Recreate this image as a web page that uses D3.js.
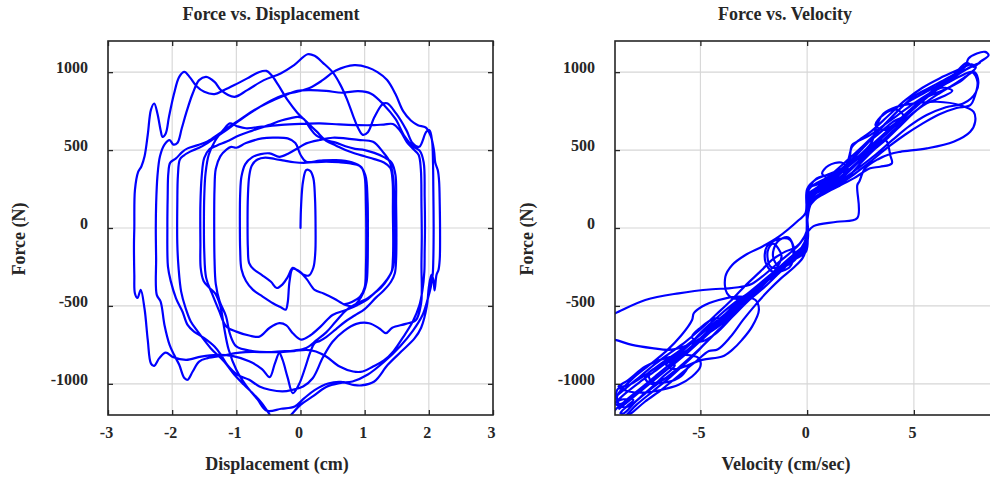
<!DOCTYPE html>
<html>
<head>
<meta charset="utf-8">
<script src="https://cdn.jsdelivr.net/npm/d3@7"></script>
<style>
  html, body { margin: 0; padding: 0; background: #fff; }
  svg { display: block; }
  text { font-family: "Liberation Serif", "Times New Roman", serif; font-weight: bold; fill: #262626; }
</style>
</head>
<body>
<svg id="fig" width="990" height="480"></svg>
<script>
// ---- tick values ----
const dispTicks  = [-3, -2, -1, 0, 1, 2, 3];
const velTicks   = [-5, 0, 5];
const forceTicks = [-1000, -500, 0, 500, 1000];

// ---- force vs displacement trace, [displacement cm, force N], one array per cycle ----
const fdCycle1 = [[0,0],[0.01,150],[0.04,300],[0.09,372],[0.15,366],[0.2,320],[0.225,200],[0.235,0],[0.23,-160],[0.2,-255],[0.13,-305],[0.05,-300],[-0.04,-275],[-0.12,-256],[-0.2,-315],[-0.28,-362],[-0.37,-385],[-0.46,-345],[-0.6,-302],[-0.73,-265],[-0.8,-225],[-0.82,-130],[-0.825,50]];
const fdCycle2 = [[-0.82,200],[-0.8,330],[-0.76,400],[-0.67,440],[-0.55,452],[-0.4,443],[-0.25,432],[-0.1,422],[0.05,418],[0.2,422],[0.4,426],[0.6,422],[0.78,414],[0.92,398],[1.01,340],[1.045,180],[1.05,0],[1.045,-250],[1.03,-345],[0.98,-415],[0.9,-470],[0.82,-502],[0.7,-494],[0.52,-452],[0.36,-420],[0.22,-397],[0.1,-330],[0.0,-284],[-0.12,-262],[-0.17,-340],[-0.2,-480],[-0.23,-524],[-0.3,-510],[-0.43,-483],[-0.59,-440],[-0.74,-397],[-0.85,-340],[-0.92,-265],[-0.94,-140],[-0.945,50]];
const fdCycle3 = [[-0.94,220],[-0.92,330],[-0.86,410],[-0.75,455],[-0.62,474],[-0.48,479],[-0.33,457],[-0.18,480],[-0.03,515],[0.09,543],[0.3,565],[0.5,579],[0.7,575],[0.9,565],[1.13,553],[1.28,490],[1.39,425],[1.445,320],[1.46,150],[1.465,-50],[1.46,-200],[1.43,-270],[1.37,-320],[1.25,-385],[1.15,-419],[1.02,-465],[0.89,-494],[0.72,-525],[0.5,-558],[0.32,-630],[0.15,-690],[0.01,-716],[-0.12,-675],[-0.22,-625],[-0.33,-611],[-0.48,-640],[-0.64,-697],[-0.8,-690],[-1.0,-665],[-1.16,-630],[-1.27,-530],[-1.38,-420],[-1.47,-320],[-1.5,-150],[-1.505,50]];
const fdCycle4 = [[-1.5,200],[-1.48,350],[-1.43,470],[-1.33,560],[-1.2,630],[-1.1,671],[-1.0,655],[-0.85,640],[-0.6,650],[-0.3,662],[0.0,668],[0.3,671],[0.6,665],[0.9,660],[1.15,660],[1.3,664],[1.44,667],[1.55,625],[1.66,550],[1.76,505],[1.84,470],[1.875,380],[1.885,150],[1.89,-50],[1.885,-250],[1.89,-400],[1.88,-483],[1.8,-590],[1.64,-615],[1.43,-640],[1.33,-675],[1.23,-645],[1.07,-611],[0.87,-615],[0.68,-660],[0.5,-730],[0.35,-830],[0.19,-964],[0.04,-1017],[-0.12,-1038],[-0.28,-1049],[-0.48,-1038],[-0.64,-1017],[-0.8,-974],[-0.98,-942],[-1.14,-878],[-1.24,-814],[-1.34,-761],[-1.5,-707],[-1.66,-665],[-1.76,-622],[-1.84,-536],[-1.94,-451],[-2.02,-344],[-2.065,-250],[-2.075,0]];
const fdCycle5 = [[-2.07,200],[-2.06,350],[-2.03,420],[-1.94,447],[-1.84,489],[-1.76,511],[-1.6,532],[-1.45,555],[-1.25,610],[-1.0,680],[-0.75,750],[-0.5,805],[-0.25,850],[-0.05,880],[0.15,885],[0.4,880],[0.65,868],[0.9,878],[1.1,862],[1.3,790],[1.48,700],[1.62,590],[1.75,525],[1.86,495],[1.92,420],[1.935,200],[1.94,0],[1.935,-150],[1.93,-280],[1.9,-400],[1.85,-500],[1.75,-600],[1.6,-700],[1.45,-790],[1.3,-850],[1.13,-889],[0.97,-921],[0.82,-921],[0.61,-889],[0.4,-825],[0.24,-793],[0.09,-782],[-0.1,-790],[-0.3,-796],[-0.53,-797],[-0.75,-795],[-0.95,-800],[-1.2,-818],[-1.45,-835],[-1.58,-857],[-1.68,-921],[-1.76,-974],[-1.81,-963],[-1.89,-878],[-1.97,-814],[-2.04,-750],[-2.12,-622],[-2.18,-472],[-2.24,-429],[-2.25,-194],[-2.255,0]];
const fdCycle6 = [[-2.25,150],[-2.23,330],[-2.19,460],[-2.12,535],[-2.04,564],[-1.98,535],[-1.92,545],[-1.85,640],[-1.78,740],[-1.68,863],[-1.58,949],[-1.47,970],[-1.34,938],[-1.24,885],[-1.03,842],[-0.83,885],[-0.57,949],[-0.31,992],[-0.1,1045],[0.11,1115],[0.22,1105],[0.35,1060],[0.5,1000],[0.62,920],[0.72,830],[0.82,720],[0.9,640],[0.97,598],[1.05,615],[1.15,710],[1.28,795],[1.35,800],[1.49,735],[1.65,628],[1.75,543],[1.85,521],[1.96,617],[2.01,628],[2.05,560],[2.065,420],[2.07,250],[2.075,0],[2.07,-200],[2.06,-300],[2.03,-380],[1.98,-460],[1.9,-560],[1.75,-660],[1.55,-760],[1.3,-860],[1.05,-940],[0.81,-985],[0.61,-995],[0.4,-1020],[0.19,-1081],[0.0,-1135],[-0.17,-1209],[-0.3,-1260],[-0.42,-1230],[-0.5,-1185],[-0.6,-1125],[-0.72,-1071],[-0.88,-1006],[-1.03,-942],[-1.19,-857],[-1.4,-771],[-1.6,-665],[-1.71,-600],[-1.79,-515],[-1.86,-408],[-1.9,-258],[-1.92,-100]];
const fdCycle7 = [[-1.92,150],[-1.91,340],[-1.88,440],[-1.82,465],[-1.72,490],[-1.58,515],[-1.45,545],[-1.2,615],[-0.95,690],[-0.7,760],[-0.45,820],[-0.22,860],[-0.05,875],[0.15,900],[0.35,950],[0.55,1010],[0.84,1045],[1.05,1030],[1.2,1000],[1.35,950],[1.48,860],[1.6,750],[1.72,690],[1.83,660],[1.95,645],[2.03,590],[2.08,500],[2.1,420],[2.14,370],[2.16,300],[2.17,150],[2.175,-50],[2.17,-200],[2.15,-270],[2.12,-300],[2.09,-400],[2.07,-330],[2.04,-300],[2.0,-380],[1.97,-500],[1.88,-640],[1.78,-707],[1.57,-793],[1.36,-878],[1.15,-985],[0.95,-1010],[0.84,-1008],[0.63,-988],[0.43,-998],[0.22,-1040],[0.06,-1092],[-0.09,-1145],[-0.3,-1160],[-0.53,-1172],[-0.67,-1100],[-0.85,-1010],[-1.0,-910],[-1.12,-780],[-1.19,-640],[-1.25,-500],[-1.33,-420],[-1.43,-380],[-1.51,-340],[-1.555,-258],[-1.56,-100]];
const fdCycle8 = [[-1.56,150],[-1.54,330],[-1.5,450],[-1.42,505],[-1.3,530],[-1.15,555],[-0.95,595],[-0.75,625],[-0.5,660],[-0.3,690],[-0.15,705],[-0.04,713],[0.05,700],[0.15,640],[0.25,592],[0.4,563],[0.55,548],[0.7,525],[0.85,508],[1.0,500],[1.15,482],[1.3,455],[1.42,420],[1.48,340],[1.49,150],[1.495,-50],[1.49,-200],[1.47,-290],[1.41,-345],[1.3,-400],[1.18,-445],[1.0,-520],[0.85,-560],[0.7,-600],[0.55,-650],[0.4,-700],[0.3,-725],[0.22,-739],[0.15,-800],[0.07,-900],[-0.02,-1000],[-0.12,-1060],[-0.2,-960],[-0.28,-845],[-0.33,-803],[-0.4,-870],[-0.48,-957],[-0.6,-905],[-0.8,-855],[-1.05,-822],[-1.3,-814],[-1.55,-825],[-1.78,-846],[-1.98,-830],[-2.1,-800],[-2.2,-835],[-2.28,-885],[-2.33,-870],[-2.38,-720],[-2.43,-520],[-2.49,-397],[-2.54,-449],[-2.58,-420],[-2.59,-300],[-2.595,-100]];
const fdCycle9 = [[-2.59,0],[-2.58,244],[-2.53,360],[-2.48,395],[-2.43,460],[-2.38,600],[-2.33,760],[-2.28,799],[-2.23,735],[-2.18,628],[-2.15,585],[-2.1,607],[-2.05,713],[-1.97,863],[-1.89,970],[-1.81,1002],[-1.72,965],[-1.62,910],[-1.5,874],[-1.34,859],[-1.19,885],[-1.03,917],[-0.83,960],[-0.65,1000],[-0.53,1008],[-0.45,980],[-0.35,920],[-0.2,820],[-0.05,740],[0.1,680],[0.25,620],[0.4,560],[0.55,530],[0.7,500],[0.85,478],[1.0,460],[1.15,442],[1.3,420],[1.4,385],[1.435,300],[1.44,100],[1.445,-100],[1.44,-200],[1.42,-280],[1.35,-330],[1.2,-400],[1.05,-450],[0.9,-480],[0.72,-525],[0.55,-600],[0.4,-670],[0.25,-720],[0.09,-770],[-0.1,-786],[-0.3,-792],[-0.53,-797],[-0.75,-790],[-1.0,-760],[-1.1,-680],[-1.16,-568],[-1.26,-470],[-1.32,-360],[-1.34,-200],[-1.345,0]];
const fdCycle10 = [[-1.34,250],[-1.32,380],[-1.25,460],[-1.15,505],[-1.08,521],[-1.0,515],[-0.85,545],[-0.6,575],[-0.43,580],[-0.2,575],[-0.08,545],[0.0,470],[0.09,425],[0.3,432],[0.55,436],[0.8,422],[0.95,390],[1.0,330],[1.02,150],[1.025,-50],[1.02,-250],[1.0,-380],[0.93,-440],[0.8,-475],[0.68,-490]];

// ---- force vs velocity trace, [velocity cm/sec, force N], one array per cycle ----
const fvCycle1 = [[0,0],[0.03,150],[0.08,255],[0.6,285],[1.3,335],[2.0,405],[2.7,490],[3.4,575],[4.1,665],[4.9,765],[5.6,840],[6.39,885],[7.17,940],[7.8,1002],[8.0,960],[7.9,870],[7.33,800],[6.5,775],[5.6,725],[4.8,655],[4.0,565],[3.2,470],[2.4,385],[1.6,305],[0.9,245],[0.3,190],[0.05,130],[0.0,0],[-0.05,-120],[-0.5,-170],[-1.2,-245],[-2.0,-335],[-2.8,-425],[-3.6,-525],[-4.4,-615],[-5.2,-705],[-6.0,-790],[-6.8,-865],[-7.6,-945],[-8.4,-1010],[-8.84,-1017]];
const fvCycle2 = [[-8.37,-974],[-7.58,-889],[-6.64,-835],[-5.7,-814],[-5.08,-835],[-5.0,-889],[-5.39,-953],[-6.02,-1006],[-6.8,-1038],[-7.58,-1056],[-8.37,-1049],[-8.84,-1030],[-9.0,-1090],[-9.1,-1160],[-9.2,-1230],[-8.7,-1225],[-8.0,-1135],[-7.2,-1045],[-6.4,-955],[-5.6,-855],[-4.8,-745],[-4.0,-635],[-3.2,-525],[-2.4,-415],[-1.6,-305],[-0.9,-215],[-0.3,-135],[0.0,-40],[0.05,215],[0.6,265],[1.4,335],[2.2,435],[3.0,545],[3.27,660],[3.58,735],[4.2,778],[4.98,799],[6.08,810],[7.17,788],[7.8,745],[7.87,681],[7.64,617],[6.86,553],[5.61,511],[4.36,489],[3.89,475],[3.3,440],[2.7,380],[2.45,300],[2.35,275],[2.35,64],[1.4,40],[0.3,12],[0.0,-30]];
const fvCycle3 = [[-0.4,-110],[-1.2,-205],[-2.0,-300],[-2.6,-360],[-2.89,-372],[-3.67,-387],[-4.45,-393],[-6.02,-419],[-7.58,-462],[-8.99,-547],[-9.7,-590],[-9.9,-660],[-9.5,-705],[-8.99,-718],[-8.2,-750],[-7.26,-771],[-6.48,-782],[-6.0,-771],[-5.4,-740],[-4.8,-690],[-4.0,-615],[-3.2,-510],[-2.4,-395],[-1.6,-290],[-0.8,-190],[-0.1,-110],[0.0,60],[0.1,250],[1.0,330],[1.8,425],[2.6,525],[3.4,630],[4.2,745],[5.0,845],[5.8,905],[6.6,965],[7.4,1035],[7.56,1088],[7.95,1120],[8.34,1130],[8.5,1109],[8.1,1066],[7.8,1034],[7.48,1060]];
const fvCycle4 = [[6.8,975],[6.0,895],[5.2,805],[4.4,705],[3.6,605],[2.8,505],[2.0,405],[1.2,305],[0.5,245],[0.1,205],[0.0,100],[-0.1,-150],[-0.9,-225],[-1.7,-310],[-2.5,-395],[-3.3,-470],[-4.1,-560],[-4.9,-660],[-5.6,-760],[-6.2,-830],[-6.6,-880],[-6.2,-905],[-4.92,-846],[-3.98,-825],[-3.51,-782],[-3.05,-718],[-2.58,-633],[-2.26,-526],[-2.42,-462],[-3.2,-440],[-4.14,-462],[-4.92,-504],[-5.31,-547],[-5.39,-590],[-5.9,-690],[-6.6,-790],[-7.4,-880],[-8.2,-970],[-8.9,-1080],[-8.8,-1130],[-8.1,-1070],[-7.3,-990],[-6.5,-900],[-5.7,-800],[-4.9,-700],[-4.1,-590],[-3.3,-480],[-2.6,-400],[-1.9,-320],[-1.2,-240],[-0.5,-160],[0.0,-90],[0.03,180],[0.6,275],[1.4,355],[2.2,455],[3.0,575],[3.8,690],[4.6,795],[5.4,860],[6.2,920],[7.0,985],[7.7,1035],[8.1,1060]];
const fvCycle5 = [[7.6,1030],[6.8,960],[6.0,880],[5.2,790],[4.4,690],[3.6,590],[2.8,480],[2.0,380],[1.2,290],[0.5,230],[0.1,180],[0.0,50],[-0.1,-130],[-0.9,-210],[-1.7,-300],[-2.5,-395],[-3.3,-455],[-3.75,-420],[-3.83,-312],[-3.51,-237],[-2.89,-173],[-2.11,-120],[-1.33,-56],[-0.39,51],[-0.08,94],[0.05,215],[0.9,290],[1.8,380],[2.6,470],[3.2,540],[3.7,560],[3.89,468],[3.97,415],[3.42,393],[2.95,383],[2.2,320],[1.5,270],[0.8,220],[0.2,160],[0.0,40],[-0.1,-100],[-0.6,-165],[-1.1,-230],[-1.6,-280],[-1.95,-220],[-1.89,-120],[-1.3,-70],[-0.8,-77],[-0.64,-162],[-0.8,-248],[-1.4,-290]];
const fvCycle6 = [[-2.2,-360],[-3.0,-450],[-3.8,-550],[-4.6,-640],[-5.4,-730],[-6.2,-820],[-7.0,-905],[-7.8,-985],[-8.5,-1060],[-9.0,-1124],[-8.75,-1103],[-8.14,-1103],[-8.45,-1145],[-8.75,-1188],[-8.6,-1190],[-8.0,-1110],[-7.3,-1030],[-6.6,-960],[-6.0,-900],[-5.6,-890],[-5.9,-950],[-6.6,-990],[-7.3,-985],[-7.4,-930],[-6.8,-880],[-6.0,-820],[-5.2,-740],[-4.4,-640],[-3.6,-540],[-2.8,-440],[-2.0,-345],[-1.6,-290],[-1.2,-180],[-1.6,-100],[-1.85,-150],[-1.7,-250],[-1.2,-250],[-0.6,-190],[-0.2,-130],[0.0,-60],[0.02,230],[0.45,318],[0.92,340],[1.86,383],[2.1,532],[2.33,553],[2.95,596],[3.5,650],[4.2,720],[5.0,800],[5.8,870],[6.5,925],[7.2,975],[7.72,1002],[7.98,938],[7.87,853],[7.64,788],[7.0,770],[6.2,730],[5.4,670],[4.6,600],[3.8,520],[3.0,430],[2.2,345],[1.5,280],[0.8,230],[0.2,180],[0.0,80],[-0.05,-150],[-0.7,-210],[-1.5,-290],[-2.3,-380],[-3.1,-470],[-3.9,-560],[-4.7,-670],[-5.5,-770],[-6.3,-860],[-7.1,-950],[-7.9,-1040],[-8.6,-1120],[-9.1,-1190]];
const fvCycle7 = [[-8.9,-1240],[-8.3,-1195],[-7.6,-1115],[-6.8,-1035],[-6.0,-945],[-5.2,-855],[-4.6,-790],[-4.2,-780],[-3.6,-700],[-3.0,-590],[-2.4,-490],[-1.8,-400],[-1.2,-320],[-0.6,-250],[-0.2,-190],[0.0,-110],[0.04,120],[0.6,210],[1.3,270],[2.0,340],[2.6,430],[3.2,510],[3.8,580],[4.4,660],[5.0,740],[5.6,810],[6.2,865],[6.8,915],[7.4,970],[7.9,1030],[7.7,1050],[7.0,1010],[6.2,960],[5.4,900],[4.6,820],[3.8,720],[3.0,620],[2.33,553],[2.1,520],[1.8,400],[1.0,345],[0.4,310],[0.0,250],[-0.02,-20],[-0.5,-120],[-1.0,-150],[-1.6,-200],[-2.2,-280],[-2.9,-370],[-3.6,-470],[-4.3,-560],[-5.0,-650],[-5.7,-730],[-6.4,-800],[-7.1,-870],[-7.8,-950],[-8.5,-1030],[-9.1,-1110]];
const fvCycle8 = [[-8.5,-1150],[-7.6,-1060],[-6.8,-960],[-6.2,-880],[-6.5,-860],[-7.2,-905],[-7.6,-960],[-7.3,-1000],[-6.6,-960],[-5.8,-870],[-5.0,-770],[-4.2,-660],[-3.8,-600],[-4.3,-580],[-5.0,-640],[-5.4,-700],[-5.0,-730],[-4.3,-680],[-3.5,-570],[-2.7,-460],[-2.0,-380],[-1.4,-300],[-0.9,-230],[-0.6,-150],[-0.9,-60],[-1.4,-90],[-1.6,-180],[-1.3,-250],[-0.8,-230],[-0.3,-160],[0.0,-80],[0.04,200],[0.8,290],[1.5,350],[1.9,380],[1.6,420],[1.0,400],[0.7,350],[1.0,320],[1.6,360],[2.2,450],[2.8,540],[3.4,610],[4.0,680],[4.5,720],[4.2,760],[3.6,730],[3.2,660],[3.6,630],[4.3,690],[5.0,770],[5.7,850],[6.3,900],[6.8,880],[6.3,840],[5.6,800],[4.8,720],[4.0,620],[3.2,520],[2.4,420],[1.6,320],[0.8,250],[0.2,200],[0.0,100],[-0.05,-140],[-0.8,-220],[-1.6,-310],[-2.4,-400],[-3.2,-500],[-4.0,-600],[-4.8,-700],[-5.6,-800],[-6.4,-890],[-7.2,-980],[-8.0,-1070],[-8.8,-1160]];

const fdTrace = [].concat(fdCycle1, fdCycle2, fdCycle3, fdCycle4, fdCycle5, fdCycle6, fdCycle7, fdCycle8, fdCycle9, fdCycle10);
const fvTrace = [].concat(fvCycle1, fvCycle2, fvCycle3, fvCycle4, fvCycle5, fvCycle6, fvCycle7, fvCycle8);

const svg = d3.select("#fig");
const fmt = d => String(d);

function panel(opt) {
  const { id, left, right, top, bottom, xDomain, xTicks, data, title, titleX, xLabel, xLabelX, yLabelX } = opt;
  const x = d3.scaleLinear().domain(xDomain).range([left, right]);
  const y = d3.scaleLinear().domain([-1200, 1200]).range([bottom, top]);
  const g = svg.append("g");

  // grid
  g.append("g").selectAll("line").data(xTicks).join("line")
    .attr("x1", d => x(d)).attr("x2", d => x(d)).attr("y1", top).attr("y2", bottom)
    .attr("stroke", "#d6d6d6").attr("stroke-width", 1.1);
  g.append("g").selectAll("line").data(forceTicks).join("line")
    .attr("x1", left).attr("x2", right).attr("y1", d => y(d)).attr("y2", d => y(d))
    .attr("stroke", "#d6d6d6").attr("stroke-width", 1.1);

  // trace
  g.append("clipPath").attr("id", id).append("rect")
    .attr("x", left).attr("y", top).attr("width", right - left).attr("height", bottom - top);
  const line = d3.line().x(d => x(d[0])).y(d => y(d[1])).curve(d3.curveCatmullRom.alpha(0.5));
  g.append("path").datum(data).attr("clip-path", `url(#${id})`)
    .attr("d", line).attr("fill", "none").attr("stroke", "#0000ff")
    .attr("stroke-width", 2.2).attr("stroke-linejoin", "round").attr("stroke-linecap", "round");

  // axes with inward ticks on all four sides
  const styleAxis = sel => {
    sel.select(".domain").remove();
    sel.selectAll(".tick line").attr("stroke", "#262626").attr("stroke-width", 1.3);
    sel.selectAll("text").attr("font-family", "Liberation Serif, Times New Roman, serif")
      .attr("font-weight", "bold").attr("font-size", 16).attr("fill", "#262626");
  };
  g.append("g").attr("transform", `translate(0,${bottom})`)
    .call(d3.axisBottom(x).tickValues(xTicks).tickSize(-5).tickSizeOuter(0).tickPadding(12).tickFormat(fmt))
    .call(styleAxis).selectAll("text").attr("dx", "-2");
  g.append("g").attr("transform", `translate(0,${top})`)
    .call(d3.axisTop(x).tickValues(xTicks).tickSize(-5).tickSizeOuter(0).tickFormat(""))
    .call(styleAxis);
  g.append("g").attr("transform", `translate(${left},0)`)
    .call(d3.axisLeft(y).tickValues(forceTicks).tickSize(-5).tickSizeOuter(0).tickPadding(20).tickFormat(fmt))
    .call(styleAxis).selectAll("text").attr("dy", "0.02em");
  g.append("g").attr("transform", `translate(${right},0)`)
    .call(d3.axisRight(y).tickValues(forceTicks).tickSize(-5).tickSizeOuter(0).tickFormat(""))
    .call(styleAxis);

  // box
  g.append("rect").attr("x", left).attr("y", top).attr("width", right - left).attr("height", bottom - top)
    .attr("fill", "none").attr("stroke", "#262626").attr("stroke-width", 1.6);

  // labels
  g.append("text").attr("x", titleX).attr("y", 20).attr("text-anchor", "middle")
    .attr("font-size", 18).text(title);
  g.append("text").attr("x", xLabelX).attr("y", 470).attr("text-anchor", "middle")
    .attr("font-size", 18).text(xLabel);
  g.append("text").attr("transform", `translate(${yLabelX},239) rotate(-90)`)
    .attr("text-anchor", "middle").attr("font-size", 18).text("Force (N)");
}

panel({ id: "clipDisp", left: 108, right: 493, top: 41, bottom: 415,
  xDomain: [-3, 3], xTicks: dispTicks, data: fdTrace,
  title: "Force vs. Displacement", titleX: 271, xLabel: "Displacement (cm)", xLabelX: 277, yLabelX: 25 });

panel({ id: "clipVel", left: 615, right: 995, top: 41, bottom: 415,
  xDomain: [-9, 8.8], xTicks: velTicks, data: fvTrace,
  title: "Force vs. Velocity", titleX: 785, xLabel: "Velocity (cm/sec)", xLabelX: 786, yLabelX: 533 });
</script>
</body>
</html>
